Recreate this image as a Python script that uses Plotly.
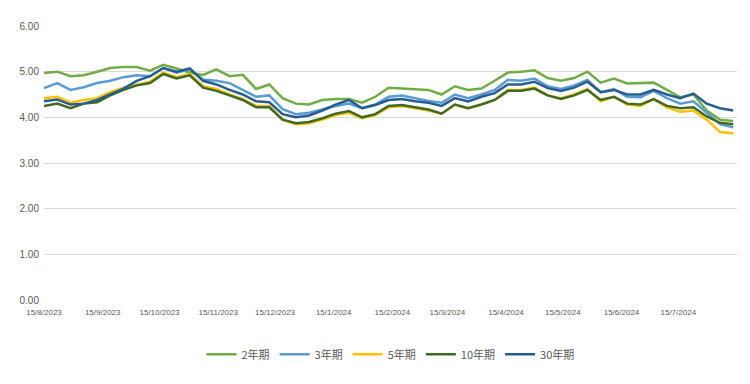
import pandas as pd
import plotly.graph_objects as go

# Weekly observation dates (every Tuesday from 15 Aug 2023)
dates = pd.date_range("2023-08-15", periods=53, freq="7D")

series_names = ["2年期", "3年期", "5年期", "10年期", "30年期"]

y2 = [4.97, 5.00, 4.90, 4.92, 5.00, 5.08, 5.10, 5.10, 5.02, 5.15,
      5.07, 4.98, 4.93, 5.05, 4.90, 4.93, 4.62, 4.72, 4.42, 4.30,
      4.28, 4.38, 4.40, 4.40, 4.32, 4.45, 4.65, 4.63, 4.62, 4.60,
      4.50, 4.68, 4.60, 4.63, 4.80, 4.98, 5.00, 5.03, 4.86, 4.80,
      4.86, 5.00, 4.76, 4.85, 4.74, 4.75, 4.76, 4.60, 4.44, 4.50,
      4.15, 3.95, 3.92]
y3 = [4.64, 4.75, 4.60, 4.66, 4.75, 4.80, 4.88, 4.92, 4.90, 5.08,
      4.98, 5.05, 4.83, 4.80, 4.75, 4.60, 4.45, 4.48, 4.18, 4.07,
      4.10, 4.17, 4.25, 4.30, 4.20, 4.28, 4.45, 4.48, 4.42, 4.36,
      4.32, 4.50, 4.42, 4.50, 4.60, 4.82, 4.80, 4.85, 4.68, 4.62,
      4.70, 4.82, 4.55, 4.62, 4.45, 4.44, 4.58, 4.42, 4.30, 4.35,
      4.10, 3.85, 3.78]
y5 = [4.42, 4.45, 4.32, 4.38, 4.42, 4.55, 4.65, 4.72, 4.78, 4.98,
      4.88, 4.95, 4.68, 4.62, 4.50, 4.40, 4.25, 4.25, 3.95, 3.85,
      3.87, 3.95, 4.05, 4.10, 3.98, 4.05, 4.22, 4.25, 4.20, 4.15,
      4.08, 4.28, 4.20, 4.28, 4.38, 4.60, 4.60, 4.65, 4.48, 4.42,
      4.50, 4.62, 4.35, 4.45, 4.28, 4.25, 4.40, 4.22, 4.12, 4.15,
      3.95, 3.68, 3.65]
y10 = [4.25, 4.30, 4.20, 4.30, 4.33, 4.48, 4.60, 4.70, 4.75, 4.95,
       4.85, 4.92, 4.65, 4.58, 4.48, 4.38, 4.22, 4.22, 3.95, 3.87,
       3.90, 3.98, 4.08, 4.14, 4.00, 4.07, 4.25, 4.27, 4.22, 4.17,
       4.08, 4.28, 4.20, 4.28, 4.38, 4.58, 4.58, 4.63, 4.48, 4.40,
       4.48, 4.60, 4.38, 4.45, 4.30, 4.28, 4.40, 4.25, 4.20, 4.22,
       4.02, 3.88, 3.85]
y30 = [4.35, 4.39, 4.28, 4.30, 4.38, 4.50, 4.63, 4.80, 4.90, 5.08,
       5.00, 5.07, 4.80, 4.72, 4.60, 4.50, 4.35, 4.33, 4.07, 4.00,
       4.04, 4.15, 4.28, 4.38, 4.20, 4.27, 4.38, 4.40, 4.35, 4.32,
       4.25, 4.42, 4.35, 4.45, 4.53, 4.72, 4.72, 4.78, 4.64, 4.58,
       4.65, 4.78, 4.55, 4.60, 4.50, 4.50, 4.60, 4.50, 4.42, 4.52,
       4.30, 4.20, 4.15]

tick_dates = ["2023-08-15", "2023-09-15", "2023-10-15", "2023-11-15", "2023-12-15",
              "2024-01-15", "2024-02-15", "2024-03-15", "2024-04-15", "2024-05-15",
              "2024-06-15", "2024-07-15"]
tick_labels = ["15/8/2023", "15/9/2023", "15/10/2023", "15/11/2023", "15/12/2023",
               "15/1/2024", "15/2/2024", "15/3/2024", "15/4/2024", "15/5/2024",
               "15/6/2024", "15/7/2024"]

y_ticks = [0, 1, 2, 3, 4, 5, 6]
y_tick_labels = ["0.00", "1.00", "2.00", "3.00", "4.00", "5.00", "6.00"]

colors = ["#70AD47", "#5B9BD5", "#FFC000", "#3F6A26", "#255E91"]
all_series = [y2, y3, y5, y10, y30]

fig = go.Figure()
for name, ys, c in zip(series_names, all_series, colors):
    fig.add_trace(go.Scatter(x=dates, y=ys, name=name, mode="lines",
                             line=dict(color=c, width=2.5)))

font_fam = "Liberation Sans Narrow, Liberation Sans, Arial, sans-serif"
fig.update_layout(
    width=742, height=376,
    margin=dict(l=25, r=13, t=14, b=84),
    paper_bgcolor="white", plot_bgcolor="white",
    font=dict(family=font_fam, color="#595959"),
    showlegend=True,
    legend=dict(orientation="h", x=0.5, xanchor="center", y=-0.198, yanchor="middle",
                font=dict(size=11, color="#595959", family="Noto Sans CJK SC, " + font_fam),
                itemwidth=30, tracegroupgap=0),
    xaxis=dict(type="date", range=["2023-08-15", "2024-08-15"],
               tickvals=tick_dates, ticktext=tick_labels, tickangle=0,
               tickfont=dict(size=8, color="#595959"),
               showgrid=False, showline=False, zeroline=False, ticks="",
               ticklabelstandoff=6),
    yaxis=dict(range=[0, 6], tickvals=y_ticks, ticktext=y_tick_labels,
               tickfont=dict(size=10, color="#595959"),
               showgrid=True, gridcolor="#D9D9D9", gridwidth=1,
               zeroline=False, showline=False, ticks="", ticklabelstandoff=4),
)

fig.write_html("out.html")
